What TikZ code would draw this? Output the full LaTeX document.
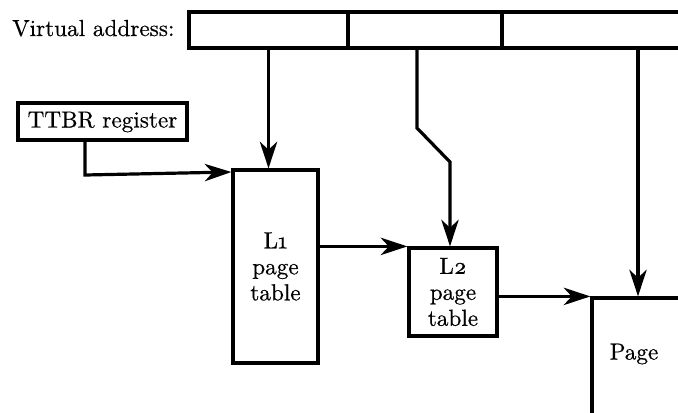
\documentclass[tikz,border=0pt]{standalone}
\usepackage{fontspec}
\setmainfont{lmroman10-regular}[Extension=.otf, Numbers=OldStyle, FakeBold=0.5]
\usetikzlibrary{arrows.meta}
\newlength\px
\setlength\px{0.75pt}
\begin{document}
\begin{tikzpicture}[
  x=0.75pt, y=-0.75pt,
  every node/.style={font=\fontsize{17.4}{19.5}\selectfont},
  box/.style={draw, line width=2.4pt, inner sep=0pt, align=center},
  arr/.style={line width=2.4pt, -{Stealth[length=20pt,width=13pt,inset=6pt]}}
]
\useasboundingbox (0,0) rectangle (678,412);
\clip (0,0) rectangle (678,412);

% virtual address with its three fields
\node[anchor=base west, inner sep=0pt] (valabel) at (12,36) {Virtual address:};
\node[box, minimum width=159\px, minimum height=36\px] (f1) at (268.5,30) {};
\node[box, minimum width=154\px, minimum height=36\px] (f2) at (425,30) {};
\node[box, minimum width=218\px, minimum height=36\px] (f3) at (611,30) {};

% base register and tables
\node[box, minimum width=169\px, minimum height=37\px] (ttbr) at (102.5,121.5) {};
\node[anchor=base, inner sep=0pt] (ttbrtext) at (102.5,127.5) {TTBR register};
\node[box, minimum width=85\px, minimum height=193\px] (l1) at (275.5,266.5) {L1\\page\\table};
\node[box, minimum width=88\px, minimum height=88\px] (l2) at (453,292) {L2\\page\\table};
\node[box, minimum width=160\px, minimum height=170\px] (page) at (672,383) {};
\node (pagetext) at (634,354) {Page};

% bend points of the connectors
\coordinate (t0) at (85,140);
\coordinate (t1) at (85,175);
\coordinate (b0) at (417,48);
\coordinate (b1) at (417,128);
\coordinate (b2) at (450,162);
\coordinate (c0) at (638,48);

% connectors
\draw[arr] (t0) -- (t1) -- (l1.west |- {(0,172)});
\draw[arr] (f1.south) -- (f1.south |- l1.north);
\draw[arr] (b0) -- (b1) -- (b2) -- (b2 |- l2.north);
\draw[arr] (c0) -- (c0 |- page.north);
\draw[arr] (l1.east |- l2.north) -- (l2.north west);
\draw[arr] (l2.east |- page.north) -- (page.north west);
\end{tikzpicture}
\end{document}
